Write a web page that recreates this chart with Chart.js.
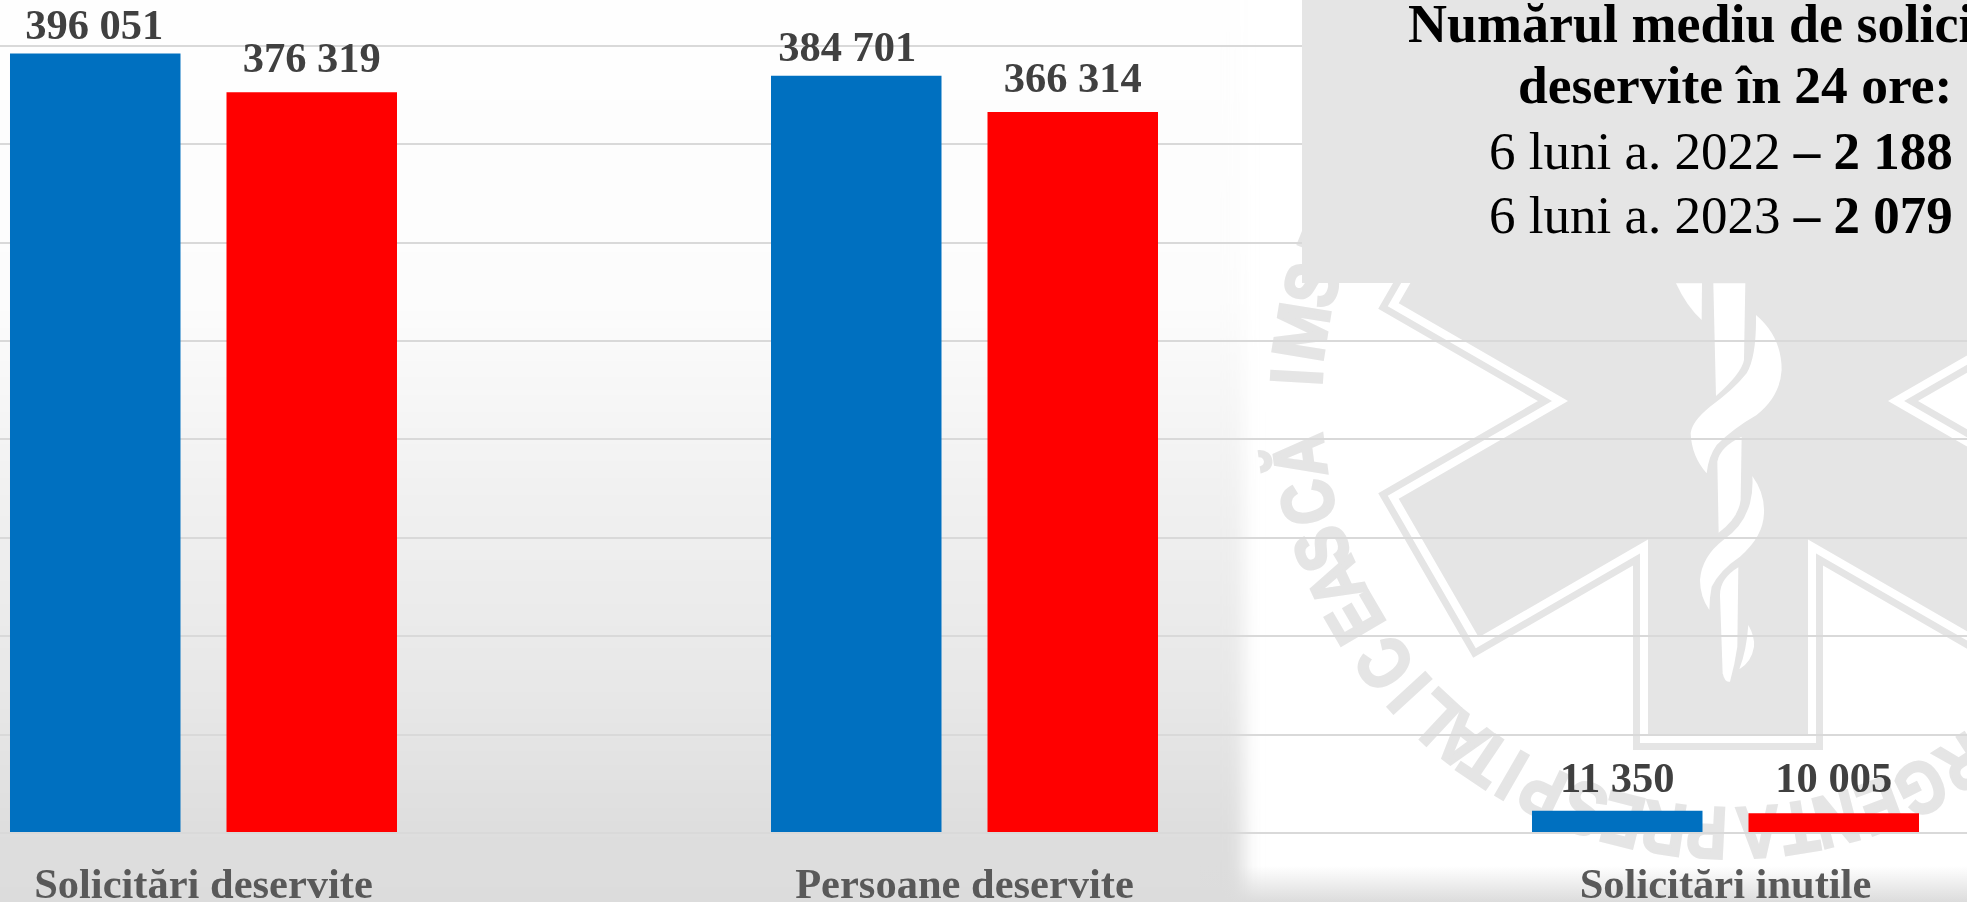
<!DOCTYPE html>
<html lang="ro">
<head>
<meta charset="utf-8">
<title>Solicitări deservite</title>
<script src="https://cdn.jsdelivr.net/npm/chart.js@4"></script>
<style>
html, body { margin: 0; padding: 0; background: #fff; }
#stage { position: relative; width: 1967px; height: 902px; overflow: hidden; background: #fff; font-family: "Liberation Serif", serif; }
#stage > * { position: absolute; }
#panel { left: -60px; top: -60px; width: 1304px; height: 1040px; filter: blur(9px);
  background: linear-gradient(to bottom, #fefefe 0, #fefefe 60px, #fcfcfc 360px, #f0f0f0 560px, #e7e7e7 760px, #dddddd 900px, #dbdbdb 1040px); }
#fade { left: 1200px; top: 866px; width: 767px; height: 36px; background: linear-gradient(to bottom, rgba(220,220,220,0), #dcdcdc); }
#logo { left: 0; top: 0; }
#chart { left: -177px; top: 0; }
#box { left: 1302px; top: 0; width: 665px; height: 283px; background: #e5e5e5; overflow: hidden; color: #000; }
#box div { position: absolute; white-space: nowrap; font-size: 53px; line-height: 60px; }
#box b { font-weight: bold; }
</style>
</head>
<body>
<div id="stage">
  <div id="panel"></div>
  <svg id="logo" width="1967" height="902" viewBox="0 0 1967 902">
    <defs>
      <polygon id="star" points="1648,735 1808,735 1808,539.6 1977.3,637.3 2057.3,498.7 1888,401 2057.3,303.3 1977.3,164.7 1808,262.4 1808,67 1648,67 1648,262.4 1478.7,164.7 1398.7,303.3 1568,401 1398.7,498.7 1478.7,637.3 1648,539.6"/>
    </defs>
    <g id="ring" font-family="Liberation Sans" font-weight="bold" font-size="73" fill="#e5e5e5" stroke="#e5e5e5" stroke-width="3" text-anchor="middle"></g>
    <use href="#star" fill="none" stroke="#e5e5e5" stroke-width="30" stroke-miterlimit="10"/>
    <use href="#star" fill="none" stroke="#fff" stroke-width="16" stroke-miterlimit="10"/>
    <use href="#star" fill="#e5e5e5"/>
    <g transform="translate(1600 270) scale(0.3333)" fill="#fff">
      <path d="M340,40 L436,40 L432,270 Q425,310 348,378 Z"/>
      <path d="M352,575 Q360,530 425,500 L422,690 Q415,745 356,788 Z"/>
      <path d="M415,892 Q360,925 360,975 L368,1210 Q375,1240 390,1235 Q405,1180 412,1130 Z"/>
      <path d="M468,135 Q545,200 545,300 Q540,380 470,435 Q400,475 350,525 Q325,560 320,610 Q275,560 272,490 Q275,455 330,410 Q400,360 440,310 Q470,260 468,135 Z"/>
      <path d="M457,618 Q495,670 492,730 Q490,800 420,860 Q360,900 335,950 Q328,985 328,1020 Q300,980 300,930 Q305,860 370,810 Q430,770 450,700 Q460,660 457,618 Z"/>
      <path d="M445,1065 Q465,1100 462,1130 Q455,1175 418,1198 Q440,1140 445,1065 Z"/>
      <path d="M228,40 L306,40 L305,150 Q260,110 228,40 Z"/>
    </g>
  </svg>
  <div id="fade"></div>
  <canvas id="chart" width="2283" height="902"></canvas>
  <div id="box">
    <div style="left:106px;top:-6px;font-size:54px"><b>Numărul mediu de solicitări</b></div>
    <div style="left:216px;top:55px;font-size:53.5px"><b>deservite în 24 ore:</b></div>
    <div style="left:187px;top:121px">6 luni a. 2022 <b>– 2 188</b></div>
    <div style="left:187px;top:185px">6 luni a. 2023 <b>– 2 079</b></div>
  </div>
</div>
<script>
const categories = ['Solicitări deservite', 'Persoane deservite', 'Solicitări inutile'];
const values2022 = [396051, 384701, 11350];
const values2023 = [376319, 366314, 10005];
const seriesNames = ['6 luni a. 2022', '6 luni a. 2023'];
const yMax = 400000;
const yStep = 50000;

// value labels sit by hand in the original, so each one has its own nudge
const labelGap = [[14, 15, 19], [20, 20.5, 21]];
const labelShift = [[-1, -9, 0], [0, 0, 0]];

// watermark letters, angle in degrees clockwise from the bottom of the seal
const ringText = 'URGENTAPRESPITALICEASCĂIMSP';
const ringAngles = [-40, -33, -26.5, -20.5, -14.5, -9.5, -4, 2.8, 8.5, 14.1, 19.4, 25.4, 30, 34.2, 38, 43, 47.5, 52.6, 59.7, 65.1, 70, 76.4, 82.6, 93.2, 99.2, 105.6, 112];

const ring = document.getElementById('ring');
ringAngles.forEach(function (angle, i) {
    const t = document.createElementNS('http://www.w3.org/2000/svg', 'text');
    const sx = ringText[i] === 'M' ? 0.93 : 0.82;
    t.setAttribute('transform', 'rotate(' + (angle + 180) + ' 1728 401) translate(1728 -6) scale(' + sx + ' 1)');
    t.textContent = ringText[i];
    ring.appendChild(t);
});

function formatValue(v) {
    return String(v).replace(/\B(?=(\d{3})+$)/g, ' ');
}

const valueLabels = {
    id: 'valueLabels',
    afterDatasetsDraw(chart) {
        const ctx = chart.ctx;
        ctx.save();
        ctx.font = 'bold 42.5px "Liberation Serif"';
        ctx.fillStyle = '#404040';
        ctx.textAlign = 'center';
        ctx.textBaseline = 'alphabetic';
        chart.data.datasets.forEach(function (ds, i) {
            chart.getDatasetMeta(i).data.forEach(function (bar, j) {
                ctx.fillText(formatValue(ds.data[j]), bar.x + labelShift[i][j], bar.y - labelGap[i][j]);
            });
        });
        ctx.restore();
    }
};

new Chart(document.getElementById('chart'), {
    type: 'bar',
    data: {
        labels: categories,
        datasets: [
            { label: seriesNames[0], data: values2022, backgroundColor: '#0070c0' },
            { label: seriesNames[1], data: values2023, backgroundColor: '#ff0000' }
        ]
    },
    options: {
        responsive: false,
        animation: false,
        devicePixelRatio: 1,
        categoryPercentage: 0.569,
        barPercentage: 0.7875,
        layout: { padding: { top: 45.7, left: 0, right: 0, bottom: 0 } },
        plugins: { legend: { display: false }, tooltip: { enabled: false } },
        scales: {
            x: {
                grid: { display: false },
                border: { display: false },
                afterFit: function (scale) { scale.height = 69; },
                ticks: {
                    color: '#595959',
                    padding: 21,
                    maxRotation: 0,
                    font: { family: 'Liberation Serif', size: 42.5, weight: 'bold' }
                }
            },
            y: {
                min: 0,
                max: yMax,
                afterFit: function (scale) { scale.width = 0; },
                border: { display: false },
                grid: { color: '#d9d9d9', lineWidth: 2, drawTicks: false },
                ticks: { display: false, stepSize: yStep }
            }
        }
    },
    plugins: [valueLabels]
});
</script>
</body>
</html>
